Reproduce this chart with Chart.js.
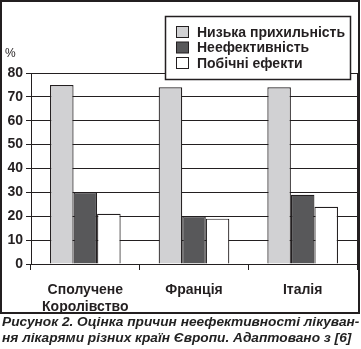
<!DOCTYPE html>
<html lang="uk">
<head>
<meta charset="UTF-8">
<title>Рисунок 2</title>
<script src="https://cdn.jsdelivr.net/npm/chart.js"></script>
<style>
  body { margin: 0; background: #fff; }
  #wrap { position: relative; width: 361px; height: 349px; }
  #caption {
    position: absolute; left: 2px; top: 314px; width: 359px;
    font: italic bold 13.7px "Liberation Sans", Arial, sans-serif;
    line-height: 16px; color: #222; white-space: nowrap;
  }
</style>
</head>
<body>
<div id="wrap">
  <canvas id="chart" width="361" height="315"></canvas>
  <div id="caption">Рисунок 2. Оцінка причин неефективності лікуван-<br>ня лікарями різних країн Європи. Адаптовано з [6]</div>
</div>

<script>
// дані з рисунка
const countries = [['Сполучене', 'Королівство'], 'Франція', 'Італія'];
const seriesNames = ['Низька прихильність', 'Неефективність', 'Побічні ефекти'];
const lowAdherence = [75, 74, 74];
const inefficacy = [30, 20, 29];
const sideEffects = [21, 19, 24];
const yTicks = [0, 10, 20, 30, 40, 50, 60, 70, 80];
const yUnit = '%';

const colors = ['#d1d1d3', '#58585a', '#ffffff'];
const ink = '#231f20';
const font = '"Liberation Sans", Arial, sans-serif';

// рамка, знак %, права межа і легенда поверх графіка
const extras = {
    id: 'extras',
    afterDraw(chart) {
        const c = chart.ctx;
        const a = chart.chartArea;
        c.save();
        c.strokeStyle = ink;
        c.lineWidth = 1;
        c.beginPath();
        c.moveTo(a.right + 0.5, a.top);
        c.lineTo(a.right + 0.5, a.bottom + 6);
        c.stroke();

        c.lineWidth = 2;
        c.strokeRect(1, 1, 358, 312);

        c.fillStyle = ink;
        c.font = '12px ' + font;
        c.textBaseline = 'middle';
        c.fillText(yUnit, 5, 54);

        // легенда
        c.fillStyle = '#fff';
        c.fillRect(165.5, 16.5, 185, 63);
        c.lineWidth = 1.5;
        c.strokeRect(165.5, 16.5, 185, 63);
        c.font = 'bold 14px ' + font;
        chart.data.datasets.forEach((ds, i) => {
            const y = 32 + i * 15.5;
            c.fillStyle = ds.backgroundColor;
            c.fillRect(176.5, y - 5.5, 12, 11);
            c.lineWidth = 1;
            c.strokeStyle = ink;
            c.strokeRect(176.5, y - 5.5, 12, 11);
            c.fillStyle = ink;
            c.fillText(ds.label, 197, y + 1);
        });
        c.restore();
    }
};

const makeSet = (i, data) => ({
    label: seriesNames[i],
    data: data,
    backgroundColor: colors[i],
    borderColor: ink,
    borderWidth: 1.2,
    borderSkipped: 'bottom',
    categoryPercentage: 0.65,
    barPercentage: 1
});

new Chart(document.getElementById('chart'), {
    type: 'bar',
    data: {
        labels: countries,
        datasets: [
            makeSet(0, lowAdherence),
            makeSet(1, inefficacy),
            makeSet(2, sideEffects)
        ]
    },
    options: {
        responsive: false,
        animation: false,
        layout: { padding: { top: 73, right: 4, left: 0, bottom: 0 } },
        plugins: {
            legend: { display: false },
            tooltip: { enabled: false }
        },
        scales: {
            x: {
                afterFit(scale) { scale.height = 51; },
                grid: { drawOnChartArea: false, drawTicks: true, tickLength: 6, color: ink, offset: true },
                border: { color: ink, width: 1 },
                ticks: { color: ink, font: { family: font, size: 14, weight: 'bold' }, padding: 12, maxRotation: 0 }
            },
            y: {
                min: yTicks[0],
                max: yTicks[yTicks.length - 1],
                afterFit(scale) { scale.width = 31; },
                afterBuildTicks(scale) { scale.ticks = yTicks.map(v => ({ value: v })); },
                grid: { color: ink, tickLength: 5 },
                border: { color: ink, width: 1 },
                ticks: { color: ink, font: { family: font, size: 14, weight: 'bold' }, padding: 3 }
            }
        }
    },
    plugins: [extras]
});
</script>
</body>
</html>
